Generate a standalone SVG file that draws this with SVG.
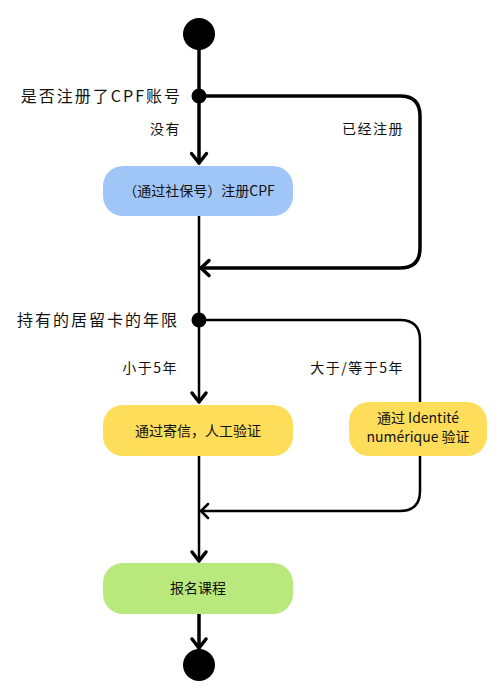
<svg xmlns="http://www.w3.org/2000/svg" width="500" height="700" viewBox="0 0 500 700">
<defs>
<style>
.t{font-family:"Noto Sans CJK SC","Noto Sans",sans-serif;fill:#111;}
.lbl{font-size:14px;letter-spacing:1.5px;}
.q{font-size:16px;letter-spacing:2px;}
.n{font-size:14px;text-anchor:middle;}
.ln{fill:none;stroke:#000;stroke-linecap:round;stroke-linejoin:round;}
.w3{stroke-width:3.5;}
.w2{stroke-width:2.5;}
</style>
</defs>
<rect width="500" height="700" fill="#fff"/>
<g id="start"><circle cx="199" cy="34" r="16" fill="#000"/></g>
<g id="end"><circle cx="199" cy="665" r="16" fill="#000"/></g>
<g id="connectors">
<path class="ln w3" d="M199 50V163"/>
<path class="ln w3" d="M191.5 153.5L199 163L206.5 153.5"/>
<path class="ln w3" d="M199 96H400Q420 96 420 116V248Q420 268 400 268H201"/>
<path class="ln w3" d="M209 260.5L201 268L209 275.5"/>
<path class="ln w2" d="M199 216V402"/>
<path class="ln w3" d="M192 393L199 402L206 393"/>
<path class="ln w2" d="M199 320H400Q420 320 420 340V402"/>
<path class="ln w2" d="M420 455V491Q420 511 400 511H201"/>
<path class="ln w2" d="M208 504L201 511L208 518"/>
<path class="ln w2" d="M199 456V561"/>
<path class="ln w3" d="M192 552L199 561L206 552"/>
<path class="ln w3" d="M199 614V648"/>
<path class="ln w3" d="M192 639L199 648L206 639"/>
</g>
<g id="d1"><circle cx="199" cy="96" r="7.5" fill="#000"/>
<text class="t q" x="182" y="102" text-anchor="end">是否注册了CPF账号</text></g>
<g id="d2"><circle cx="199" cy="320" r="7.5" fill="#000"/>
<text class="t q" x="179" y="326" text-anchor="end">持有的居留卡的年限</text></g>
<g id="labels">
<text class="t lbl" x="181" y="134" text-anchor="end">没有</text>
<text class="t lbl" x="404" y="134" text-anchor="end">已经注册</text>
<text class="t lbl" x="178" y="373" text-anchor="end">小于5年</text>
<text class="t lbl" x="404" y="373" text-anchor="end">大于/等于5年</text>
</g>
<g id="n1"><rect x="103" y="166" width="190" height="50" rx="20" fill="#a0c6f8"/>
<text class="t n" x="199" y="196">（通过社保号）注册CPF</text></g>
<g id="n2"><rect x="103" y="405" width="190" height="51" rx="20" fill="#fedd5a"/>
<text class="t n" x="198" y="436">通过寄信，人工验证</text></g>
<g id="n3"><rect x="349" y="402" width="138" height="54" rx="20" fill="#fedd5a"/>
<text class="t n" x="418" y="423">通过 Identité</text>
<text class="t n" x="418" y="442">numérique 验证</text></g>
<g id="n4"><rect x="103" y="563" width="190" height="51" rx="20" fill="#b9e97d"/>
<text class="t n" x="198" y="593">报名课程</text></g>
</svg>
